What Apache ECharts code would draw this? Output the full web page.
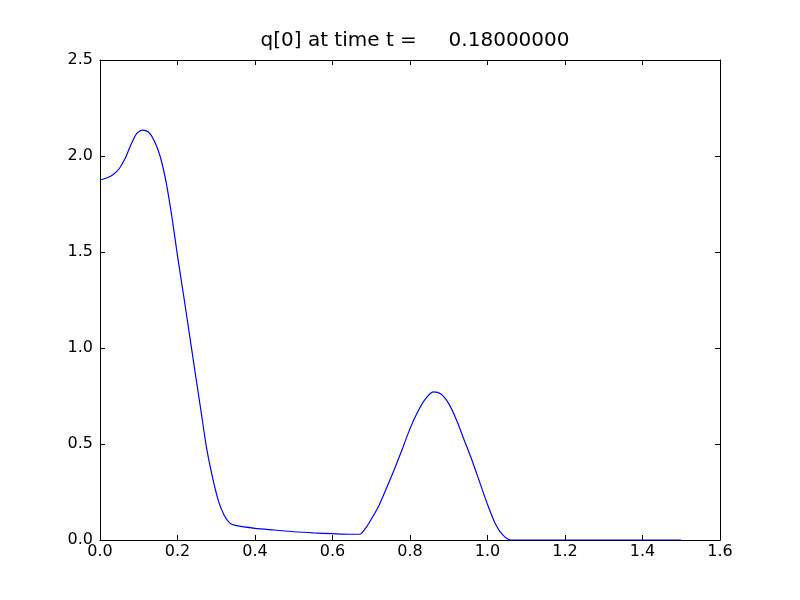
<!DOCTYPE html>
<html>
<head>
<meta charset="utf-8">
<script src="https://cdn.jsdelivr.net/npm/echarts@6/dist/echarts.min.js"></script>
<style>html,body{margin:0;padding:0;background:#fff}#c{width:800px;height:600px}</style>
</head>
<body>
<div id="c"></div>
<script>
const titleText = 'q[0] at time t =     0.18000000';
const xValues = [0, 0.02, 0.035, 0.05, 0.065, 0.08, 0.095, 0.11, 0.125, 0.14, 0.155, 0.17, 0.185, 0.2, 0.215, 0.23, 0.245, 0.26, 0.275, 0.29, 0.305, 0.32, 0.335, 0.35, 0.4, 0.45, 0.5, 0.55, 0.6, 0.65, 0.67, 0.685, 0.70, 0.72, 0.74, 0.76, 0.78, 0.80, 0.82, 0.84, 0.86, 0.88, 0.90, 0.92, 0.94, 0.96, 0.98, 1.00, 1.02, 1.04, 1.06, 1.1, 1.2, 1.3, 1.4, 1.5];
const qValues = [1.875, 1.888, 1.905, 1.935, 1.988, 2.06, 2.118, 2.135, 2.125, 2.08, 2.0, 1.87, 1.69, 1.48, 1.284, 1.083, 0.88, 0.68, 0.48, 0.33, 0.208, 0.13, 0.088, 0.076, 0.061, 0.052, 0.043, 0.037, 0.033, 0.030, 0.030, 0.06, 0.108, 0.18, 0.273, 0.37, 0.473, 0.58, 0.668, 0.735, 0.771, 0.76, 0.71, 0.625, 0.52, 0.415, 0.30, 0.185, 0.085, 0.025, 0, 0, 0, 0, 0, 0];
const xTicks = [0, 0.2, 0.4, 0.6, 0.8, 1.0, 1.2, 1.4, 1.6];
const yTicks = [0, 0.5, 1.0, 1.5, 2.0, 2.5];

const font = 'DejaVu Sans';
const data = xValues.map((x, i) => [x, qValues[i]]);
const chart = echarts.init(document.getElementById('c'), null, {renderer: 'canvas'});
const lineStyle = {color: '#000', width: 1};
const tick = {show: true, inside: true, length: 5, lineStyle: {color: '#000', width: 1}};
chart.setOption({
  animation: false,
  backgroundColor: '#fff',
  title: {
    text: titleText, left: 410, top: 26, textAlign: 'center',
    textStyle: {fontFamily: font, fontSize: 20, fontWeight: 'normal', color: '#000'}
  },
  grid: {left: 100, top: 60, width: 620, height: 480, show: false},
  xAxis: [{
    type: 'value', min: 0, max: 1.6, interval: 0.2, position: 'bottom',
    axisLine: {show: true, onZero: false, lineStyle},
    axisTick: tick, splitLine: {show: false},
    axisLabel: {fontFamily: font, fontSize: 16, color: '#000', margin: 4, formatter: v => v.toFixed(1)}
  }, {
    type: 'value', min: 0, max: 1.6, interval: 0.2, position: 'top',
    axisLine: {show: true, onZero: false, lineStyle},
    axisTick: tick, splitLine: {show: false}, axisLabel: {show: false}
  }],
  yAxis: [{
    type: 'value', min: 0, max: 2.5, interval: 0.5, position: 'left',
    axisLine: {show: true, onZero: false, lineStyle},
    axisTick: tick, splitLine: {show: false},
    axisLabel: {fontFamily: font, fontSize: 16, color: '#000', margin: 7, formatter: v => v.toFixed(1)}
  }, {
    type: 'value', min: 0, max: 2.5, interval: 0.5, position: 'right',
    axisLine: {show: true, onZero: false, lineStyle},
    axisTick: tick, splitLine: {show: false}, axisLabel: {show: false}
  }],
  series: [{
    type: 'line', data: data, xAxisIndex: 0, yAxisIndex: 0,
    showSymbol: false, smooth: 0.25,
    lineStyle: {color: '#0000ff', width: 1.2}, clip: true
  }]
});
</script>
</body>
</html>
